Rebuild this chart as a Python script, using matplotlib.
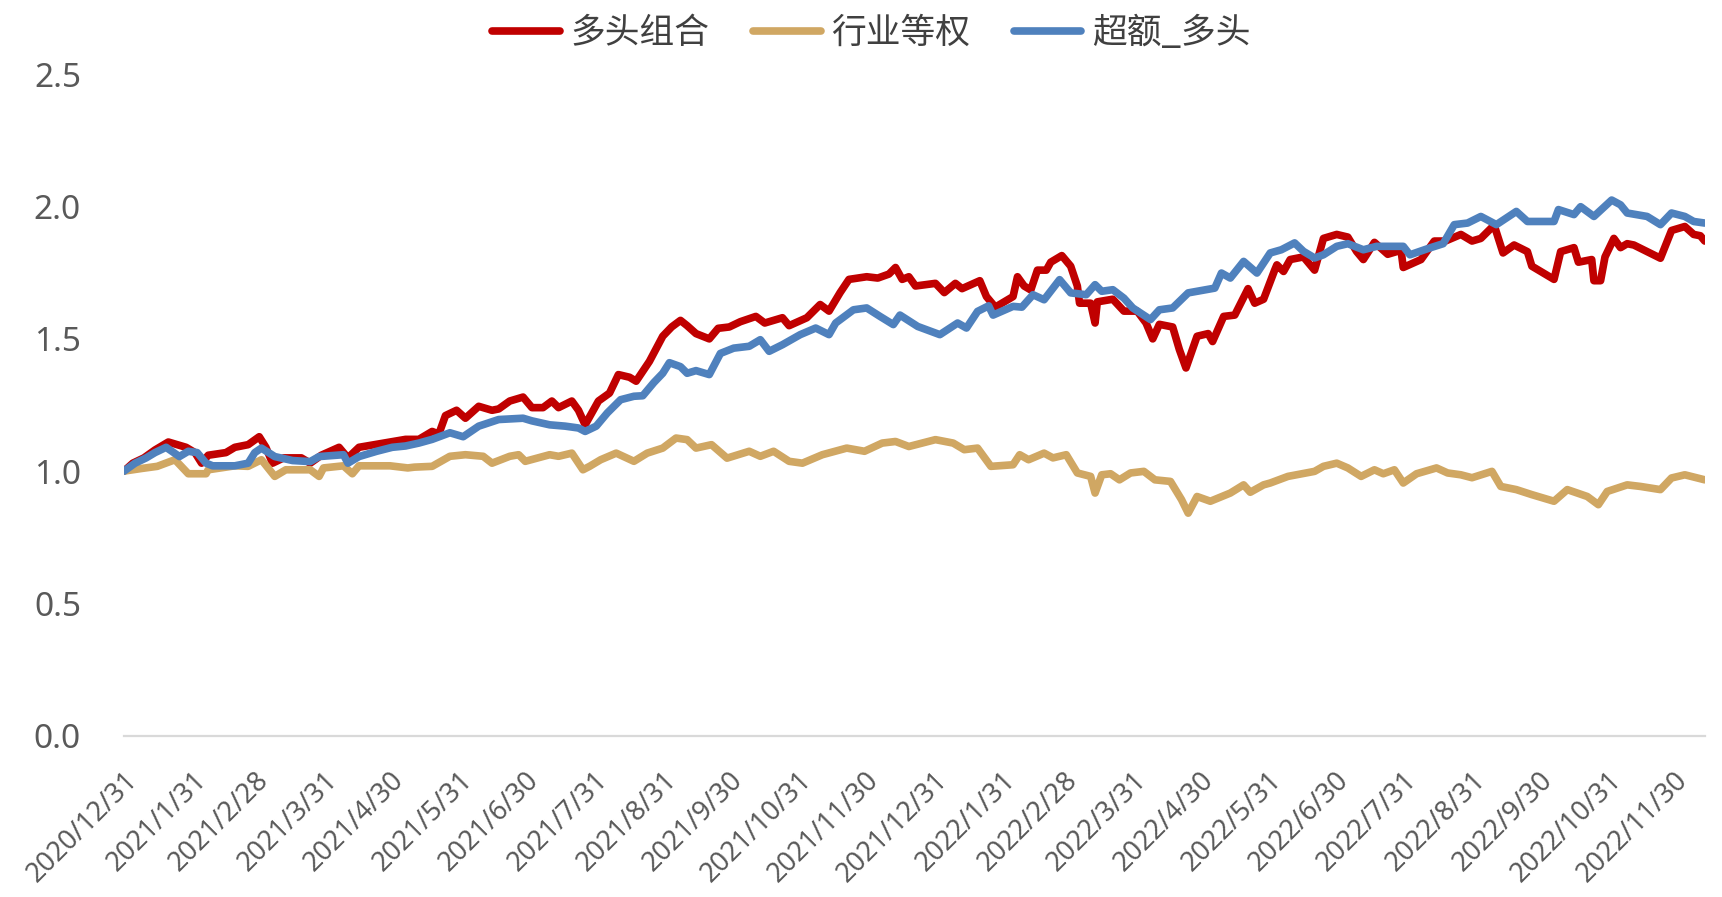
import pandas as pd

import matplotlib
matplotlib.use("Agg")
import matplotlib.pyplot as plt


START = pd.Timestamp("2020-12-31")

series_names = ["多头组合", "行业等权", "超额_多头"]

# values, x = calendar days after 2020/12/31
long_days = [0, 4, 9, 14, 20, 24, 28, 32, 35, 38, 46, 50, 56, 61, 64, 67, 72, 80, 84, 89,
             97, 101, 106, 113, 120, 127, 133, 139, 142, 145, 150, 154, 160, 166, 169, 174,
             180, 184, 189, 193, 196, 202, 205, 208, 214, 219, 223, 228, 231, 237, 243, 247,
             251, 254, 258, 264, 268, 273, 278, 285, 289, 297, 300, 308, 314, 318, 323, 327,
             335, 340, 345, 348, 351, 354, 357, 366, 370, 375, 378, 386, 389, 393, 401, 403,
             406, 409, 412, 416, 418, 423, 427, 430, 431, 436, 438, 439, 446, 451, 457, 461,
             464, 467, 473, 476, 479, 484, 489, 491, 496, 501, 507, 510, 514, 519, 520, 523,
             526, 532, 537, 541, 547, 552, 556, 559, 564, 570, 576, 577, 585, 591, 596, 603,
             608, 612, 618, 622, 627, 633, 635, 645, 648, 654, 656, 662, 663, 666, 668, 672,
             675, 678, 681, 687, 693, 698, 704, 708, 711, 713]
long_vals = [1.00, 1.03, 1.05, 1.08, 1.11, 1.10, 1.09, 1.07, 1.03, 1.06, 1.07, 1.09, 1.10, 1.13,
             1.09, 1.03, 1.05, 1.05, 1.03, 1.06, 1.09, 1.05, 1.09, 1.10, 1.11, 1.12, 1.12, 1.15,
             1.14, 1.21, 1.23, 1.20, 1.245, 1.23, 1.235, 1.265, 1.28, 1.24, 1.24, 1.265, 1.24,
             1.265, 1.23, 1.175, 1.265, 1.295, 1.365, 1.355, 1.34, 1.415, 1.51, 1.545, 1.57,
             1.55, 1.52, 1.50, 1.54, 1.545, 1.565, 1.585, 1.56, 1.58, 1.55, 1.58, 1.63, 1.605,
             1.675, 1.725, 1.735, 1.73, 1.745, 1.77, 1.725, 1.735, 1.70, 1.71, 1.675, 1.71, 1.69,
             1.72, 1.66, 1.62, 1.66, 1.735, 1.70, 1.685, 1.76, 1.76, 1.79, 1.815, 1.775, 1.70,
             1.635, 1.635, 1.56, 1.64, 1.65, 1.605, 1.605, 1.56, 1.50, 1.555, 1.545, 1.46, 1.39,
             1.51, 1.52, 1.49, 1.585, 1.59, 1.69, 1.635, 1.65, 1.76, 1.78, 1.755, 1.80, 1.81,
             1.76, 1.88, 1.895, 1.885, 1.83, 1.80, 1.865, 1.82, 1.835, 1.77, 1.80, 1.87, 1.87,
             1.895, 1.87, 1.88, 1.93, 1.825, 1.855, 1.83, 1.775, 1.725, 1.83, 1.845, 1.79, 1.80,
             1.72, 1.72, 1.81, 1.88, 1.845, 1.86, 1.855, 1.83, 1.805, 1.91, 1.925, 1.895, 1.89,
             1.87]

equal_days = [0, 8, 15, 23, 29, 37, 38, 50, 56, 62, 68, 73, 84, 88, 90, 99, 103, 106, 120,
              128, 131, 139, 147, 154, 162, 166, 174, 178, 181, 192, 196, 202, 207, 210, 215,
              222, 230, 236, 243, 249, 254, 258, 265, 272, 282, 287, 293, 300, 306, 315, 326,
              334, 342, 348, 354, 366, 374, 379, 385, 391, 401, 404, 408, 415, 419, 425, 430,
              436, 438, 441, 445, 449, 454, 460, 465, 472, 477, 480, 484, 490, 499, 505, 508,
              514, 517, 525, 537, 541, 547, 552, 558, 564, 568, 573, 577, 583, 592, 597, 603,
              608, 617, 621, 628, 635, 645, 651, 660, 665, 669, 678, 684, 693, 698, 704, 713]
equal_vals = [1.00, 1.01, 1.018, 1.043, 0.99, 0.99, 1.005, 1.02, 1.018, 1.043, 0.98, 1.005,
              1.005, 0.98, 1.012, 1.02, 0.99, 1.02, 1.02, 1.012, 1.015, 1.018, 1.056, 1.062,
              1.056, 1.03, 1.056, 1.062, 1.037, 1.062, 1.056, 1.068, 1.005, 1.018, 1.043, 1.068,
              1.037, 1.068, 1.087, 1.125, 1.119, 1.087, 1.10, 1.049, 1.075, 1.056, 1.075, 1.037,
              1.03, 1.062, 1.087, 1.075, 1.106, 1.112, 1.093, 1.119, 1.106, 1.081, 1.087, 1.018,
              1.024, 1.062, 1.043, 1.068, 1.05, 1.062, 0.993, 0.98, 0.917, 0.986, 0.99, 0.967,
              0.993, 0.999, 0.967, 0.961, 0.892, 0.841, 0.904, 0.886, 0.917, 0.948, 0.92, 0.948,
              0.955, 0.98, 0.999, 1.018, 1.03, 1.012, 0.98, 1.005, 0.99, 1.005, 0.955, 0.99,
              1.012, 0.993, 0.986, 0.975, 0.999, 0.942, 0.93, 0.911, 0.886, 0.93, 0.904, 0.873,
              0.923, 0.948, 0.942, 0.93, 0.974, 0.986, 0.967]

excess_days = [0, 5, 10, 14, 19, 25, 29, 33, 37, 40, 50, 56, 59, 62, 68, 76, 84, 88, 99, 101,
               106, 114, 121, 127, 133, 139, 147, 153, 160, 169, 180, 184, 192, 199, 205, 208,
               213, 218, 224, 230, 234, 239, 243, 246, 251, 254, 258, 264, 269, 275, 282, 287,
               291, 297, 305, 312, 318, 321, 329, 335, 341, 347, 350, 358, 368, 376, 380, 385,
               390, 392, 401, 405, 410, 415, 422, 427, 434, 438, 441, 446, 451, 455, 463, 467,
               473, 480, 492, 495, 499, 505, 511, 517, 522, 528, 532, 537, 541, 547, 552, 559,
               565, 577, 580, 589, 595, 600, 606, 612, 619, 628, 633, 645, 647, 654, 657, 663,
               671, 675, 678, 687, 693, 698, 704, 708, 713]
excess_vals = [1.00, 1.03, 1.05, 1.07, 1.09, 1.055, 1.075, 1.07, 1.03, 1.02, 1.02, 1.03, 1.07,
               1.087, 1.055, 1.04, 1.036, 1.055, 1.062, 1.03, 1.055, 1.075, 1.09, 1.095, 1.106,
               1.12, 1.145, 1.13, 1.17, 1.195, 1.20, 1.19, 1.175, 1.17, 1.163, 1.15, 1.17, 1.22,
               1.27, 1.283, 1.285, 1.335, 1.37, 1.41, 1.395, 1.37, 1.38, 1.365, 1.445, 1.465,
               1.472, 1.497, 1.453, 1.478, 1.516, 1.541, 1.516, 1.56, 1.61, 1.617, 1.585, 1.554,
               1.59, 1.547, 1.516, 1.56, 1.541, 1.604, 1.625, 1.59, 1.623, 1.62, 1.667, 1.648,
               1.724, 1.674, 1.667, 1.705, 1.68, 1.686, 1.654, 1.617, 1.573, 1.61, 1.617, 1.674,
               1.692, 1.749, 1.73, 1.793, 1.749, 1.825, 1.837, 1.863, 1.831, 1.806, 1.818, 1.85,
               1.86, 1.837, 1.85, 1.85, 1.818, 1.844, 1.86, 1.932, 1.938, 1.963, 1.932, 1.982,
               1.944, 1.944, 1.989, 1.97, 2.00, 1.963, 2.025, 2.007, 1.976, 1.963, 1.932, 1.976,
               1.963, 1.944, 1.938]

tick_labels = ["2020/12/31", "2021/1/31", "2021/2/28", "2021/3/31", "2021/4/30", "2021/5/31",
               "2021/6/30", "2021/7/31", "2021/8/31", "2021/9/30", "2021/10/31", "2021/11/30",
               "2021/12/31", "2022/1/31", "2022/2/28", "2022/3/31", "2022/4/30", "2022/5/31",
               "2022/6/30", "2022/7/31", "2022/8/31", "2022/9/30", "2022/10/31", "2022/11/30"]
y_ticks = [0.0, 0.5, 1.0, 1.5, 2.0, 2.5]

colors = ["#C00000", "#D0A763", "#4F81BD"]


def to_dates(days):
    return START + pd.to_timedelta(days, unit="D")


plt.rcParams["font.family"] = ["Noto Sans", "Noto Sans CJK SC", "DejaVu Sans"]

fig = plt.figure(figsize=(17.22, 8.97), dpi=100)
ax = fig.add_axes([0.072, 0.180, 0.918, 0.737])

all_days = [long_days, equal_days, excess_days]
all_vals = [long_vals, equal_vals, excess_vals]
for name, days, vals, color in zip(series_names, all_days, all_vals, colors):
    ax.plot(to_dates(days), vals, color=color, lw=5.5, label=name,
            solid_joinstyle="round", solid_capstyle="round")

ax.set_ylim(0, 2.5)
ax.set_yticks(y_ticks)
ax.set_yticklabels([f"{v:.1f}" for v in y_ticks])
ax.set_xlim(to_dates([0])[0], to_dates([713])[0])

tick_dates = pd.to_datetime(tick_labels, format="%Y/%m/%d")
ax.set_xticks(tick_dates)
ax.set_xticklabels(tick_labels, rotation=45, ha="right", rotation_mode="anchor")

for side in ["top", "right", "left"]:
    ax.spines[side].set_visible(False)
ax.spines["bottom"].set_color("#D9D9D9")
ax.spines["bottom"].set_linewidth(1.6)
ax.tick_params(axis="y", length=0, pad=31, labelsize=24, labelcolor="#595959")
ax.tick_params(axis="x", length=0, pad=22, labelsize=19.5, labelcolor="#595959")

ax.legend(loc="center", bbox_to_anchor=(0.506, 0.963), bbox_transform=fig.transFigure,
          ncol=3, frameon=False, handlelength=1.95, handletextpad=0.3, columnspacing=1.25,
          prop={"family": ["Noto Sans CJK SC", "DejaVu Sans"], "size": 25},
          labelcolor="#404040")

fig.savefig("out.png", dpi=100)
